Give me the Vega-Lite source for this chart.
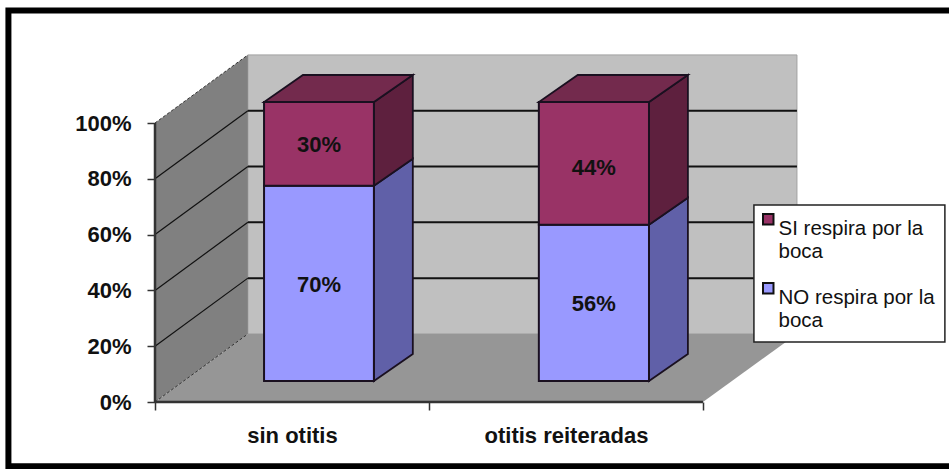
{"$schema":"https://vega.github.io/schema/vega-lite/v6.json","width":794,"height":402,"autosize":{"type":"none"},"padding":{"left":155,"top":0,"right":0,"bottom":67},"background":"white","view":{"stroke":null},"datasets":{"frame":[{"x":-0.535,"x2":2.93,"y":140.3,"y2":-23}],"box":[{"x":2.186,"x2":2.883,"y":70.6,"y2":21.5}],"back":[{"face":"pared fondo","x":0.339,"x2":2.343,"y":24.4,"y2":124.4}],"polys":[{"id":"lw","face":"pared lateral","x":0,"y":0,"y2":100},{"id":"lw","face":"pared lateral","x":0.339,"y":24.4,"y2":124.4},{"id":"fl","face":"suelo","x":0,"y":0,"y2":0},{"id":"fl","face":"suelo","x":0.339,"y":24.4,"y2":0},{"id":"fl","face":"suelo","x":2,"y":24.4,"y2":0},{"id":"fl","face":"suelo","x":2.343,"y":24.4,"y2":24.4}],"grid":[{"x":0.339,"x2":2.343,"y":44.4,"y2":44.4},{"x":0.339,"x2":2.343,"y":64.4,"y2":64.4},{"x":0.339,"x2":2.343,"y":84.4,"y2":84.4},{"x":0.339,"x2":2.343,"y":104.4,"y2":104.4}],"gridl":[{"x":0,"x2":0.339,"y":20,"y2":44.4},{"x":0,"x2":0.339,"y":40,"y2":64.4},{"x":0,"x2":0.339,"y":60,"y2":84.4},{"x":0,"x2":0.339,"y":80,"y2":104.4}],"axes":[{"x":0,"x2":2,"y":0,"y2":0},{"x":0,"x2":0,"y":0,"y2":100}],"edges":[{"x":0,"x2":0.339,"y":0,"y2":24.4},{"x":0,"x2":0.339,"y":100,"y2":124.4}],"sides":[{"id":"s1no","face":"NO lateral","x":0.799,"y":7.5,"y2":77.5},{"id":"s1no","face":"NO lateral","x":0.941,"y":17.2,"y2":87.2},{"id":"s1si","face":"SI lateral","x":0.799,"y":77.5,"y2":107.5},{"id":"s1si","face":"SI lateral","x":0.941,"y":87.2,"y2":117.2},{"id":"t1","face":"SI superior","x":0.398,"y":107.5,"y2":107.5},{"id":"t1","face":"SI superior","x":0.54,"y":107.5,"y2":117.2},{"id":"t1","face":"SI superior","x":0.799,"y":107.5,"y2":117.2},{"id":"t1","face":"SI superior","x":0.941,"y":117.2,"y2":117.2},{"id":"s2no","face":"NO lateral","x":1.803,"y":7.5,"y2":63.5},{"id":"s2no","face":"NO lateral","x":1.945,"y":17.2,"y2":73.2},{"id":"s2si","face":"SI lateral","x":1.803,"y":63.5,"y2":107.5},{"id":"s2si","face":"SI lateral","x":1.945,"y":73.2,"y2":117.2},{"id":"t2","face":"SI superior","x":1.401,"y":107.5,"y2":107.5},{"id":"t2","face":"SI superior","x":1.543,"y":107.5,"y2":117.2},{"id":"t2","face":"SI superior","x":1.803,"y":107.5,"y2":117.2},{"id":"t2","face":"SI superior","x":1.945,"y":117.2,"y2":117.2}],"bars":[{"categoria":"sin otitis","face":"NO respira por la boca","valor":"70%","x":0.398,"x2":0.799,"y":7.5,"y2":77.5,"ly":42},{"categoria":"sin otitis","face":"SI respira por la boca","valor":"30%","x":0.398,"x2":0.799,"y":77.5,"y2":107.5,"ly":92},{"categoria":"otitis reiteradas","face":"NO respira por la boca","valor":"56%","x":1.401,"x2":1.803,"y":7.5,"y2":63.5,"ly":35},{"categoria":"otitis reiteradas","face":"SI respira por la boca","valor":"44%","x":1.401,"x2":1.803,"y":63.5,"y2":107.5,"ly":84}]},"encoding":{"x":{"field":"x","type":"quantitative","scale":{"domain":[0,2.898],"nice":false,"zero":false},"axis":{"title":null,"grid":false,"domain":false,"zindex":1,"values":[0,0.5,1,1.5,2],"tickSize":8,"tickWidth":1.5,"tickColor":"#333333","tickOpacity":{"condition":{"test":"datum.value % 1 == 0","value":1},"value":0},"labelExpr":"datum.value == 0.5 ? 'sin otitis' : datum.value == 1.5 ? 'otitis reiteradas' : ''","labelFont":"Liberation Sans","labelFontWeight":"bold","labelFontSize":22,"labelColor":"#111111","labelPadding":15,"labelFlush":false,"labelOverlap":false}},"y":{"field":"y","type":"quantitative","stack":null,"scale":{"domain":[0,144.09],"nice":false,"zero":false},"axis":{"title":null,"grid":false,"domain":false,"zindex":1,"values":[0,20,40,60,80,100],"tickSize":8,"tickWidth":1.5,"tickColor":"#333333","labelExpr":"datum.value + '%'","labelFont":"Liberation Sans","labelFontWeight":"bold","labelFontSize":22,"labelColor":"#111111","labelPadding":16,"labelOverlap":false}},"color":{"field":"face","type":"nominal","scale":{"domain":["SI respira por la boca","NO respira por la boca","SI lateral","SI superior","NO lateral","pared lateral","suelo","pared fondo"],"range":["#993366","#9999ff","#5e203e","#732a4d","#6060a8","#808080","#969696","#c0c0c0"]},"legend":{"orient":"none","legendX":599,"legendY":205,"title":null,"values":["SI respira por la boca","NO respira por la boca"],"padding":4,"symbolType":"square","symbolSize":110,"symbolStrokeColor":"#111111","symbolStrokeWidth":2,"labelFont":"Liberation Sans","labelFontSize":20.5,"labelColor":"#111111","labelLimit":220,"labelBaseline":"top","labelExpr":"datum.label == 'SI respira por la boca' ? ['SI respira por la','boca'] : ['NO respira por la','boca']","rowPadding":15,"labelOffset":0}}},"layer":[{"data":{"name":"frame"},"mark":{"type":"rect","fill":"white","stroke":"#000000","strokeWidth":6},"encoding":{"x2":{"field":"x2"},"y2":{"field":"y2"},"color":{"value":"white"}}},{"data":{"name":"back"},"mark":{"type":"rect","stroke":"#a0a0a0","strokeWidth":1},"encoding":{"x2":{"field":"x2"},"y2":{"field":"y2"}}},{"data":{"name":"polys"},"mark":{"type":"area","orient":"vertical"},"encoding":{"y2":{"field":"y2"},"detail":{"field":"id","type":"nominal"}}},{"data":{"name":"grid"},"mark":{"type":"rule","strokeWidth":2},"encoding":{"x2":{"field":"x2"},"y2":{"field":"y2"},"color":{"value":"#111111"}}},{"data":{"name":"gridl"},"mark":{"type":"rule","strokeWidth":1.2},"encoding":{"x2":{"field":"x2"},"y2":{"field":"y2"},"color":{"value":"#111111"}}},{"data":{"name":"edges"},"mark":{"type":"rule","strokeWidth":1,"strokeDash":[3,2]},"encoding":{"x2":{"field":"x2"},"y2":{"field":"y2"},"color":{"value":"#333333"}}},{"data":{"name":"axes"},"mark":{"type":"rule","strokeWidth":2.5},"encoding":{"x2":{"field":"x2"},"y2":{"field":"y2"},"color":{"value":"#333333"}}},{"data":{"name":"sides"},"mark":{"type":"area","orient":"vertical","stroke":"#1a1020","strokeWidth":1.8},"encoding":{"y2":{"field":"y2"},"detail":{"field":"id","type":"nominal"}}},{"data":{"name":"bars"},"mark":{"type":"rect","stroke":"#1a1020","strokeWidth":2},"encoding":{"x2":{"field":"x2"},"y2":{"field":"y2"}}},{"data":{"name":"bars"},"mark":{"type":"text","font":"Liberation Sans","fontWeight":"bold","fontSize":22},"encoding":{"x":{"field":"x","type":"quantitative"},"xOffset":{"value":55},"y":{"field":"ly","type":"quantitative"},"text":{"field":"valor"},"color":{"value":"#111111"}}},{"data":{"name":"box"},"mark":{"type":"rect","fill":"white","stroke":"#222222","strokeWidth":1.5},"encoding":{"x2":{"field":"x2"},"y2":{"field":"y2"},"color":{"value":"white"}}}]}
